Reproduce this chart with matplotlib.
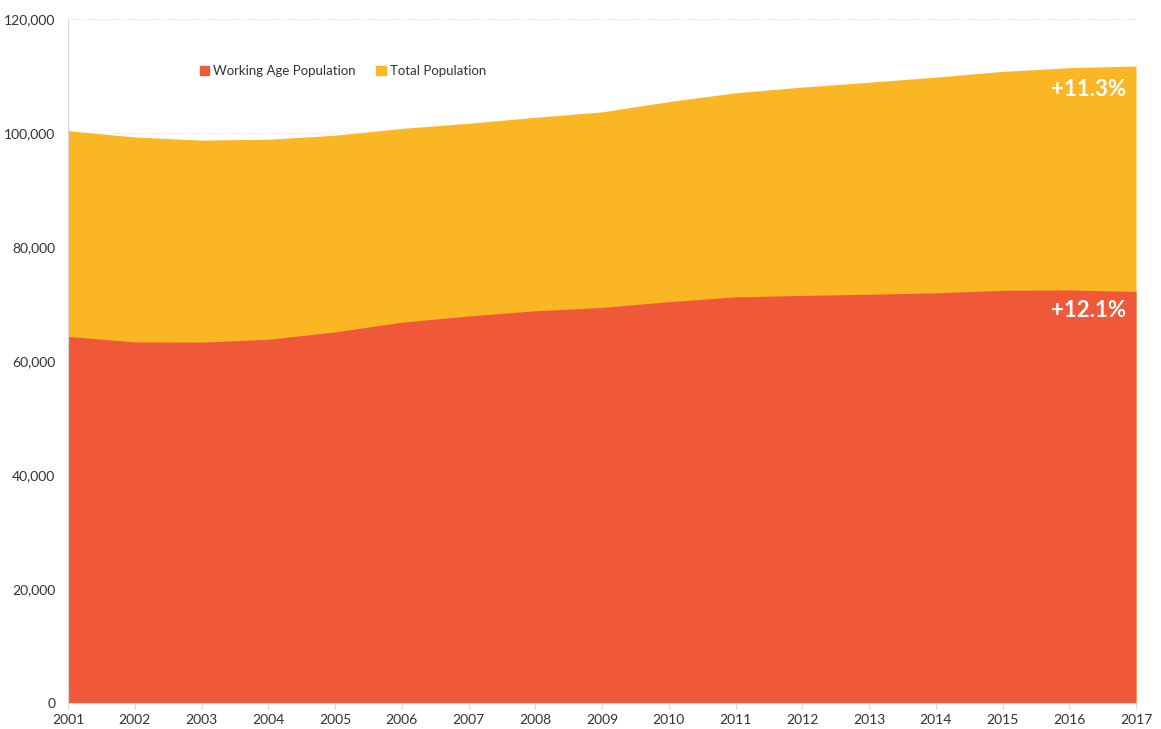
import matplotlib
matplotlib.use('Agg')
import matplotlib.pyplot as plt
import numpy             as np
from   matplotlib.ticker import FuncFormatter
from   matplotlib.patches import Patch


years      = [2001, 2002, 2003, 2004, 2005, 2006, 2007, 2008, 2009,
              2010, 2011, 2012, 2013, 2014, 2015, 2016, 2017]
total_pop  = [100400, 99300, 98750, 98900, 99600, 100800, 101700, 102750, 103700,
              105500, 107050, 108050, 108900, 109800, 110800, 111450, 111750]
working_pop = [64300, 63350, 63300, 63800, 65100, 66800, 67900, 68800, 69400,
               70400, 71250, 71500, 71700, 71950, 72400, 72450, 72200]
growth_labels = ['+11.3%', '+12.1%']

red    = '#EF593A'
yellow = '#FBB624'

plt.rcParams['font.family'] = ['Lato', 'DejaVu Sans']

fig = plt.figure(figsize=(11.61, 7.29), dpi=100)
ax  = fig.add_axes([0.0586, 0.0357, 0.9199, 0.9383])

ax.fill_between(years, 0, total_pop,   color=yellow, lw=0, zorder=2)
ax.fill_between(years, 0, working_pop, color=red,    lw=0, zorder=3)

ax.set_xlim(years[0], years[-1])
ax.set_ylim(0, 120000)
ax.set_xticks(years)
ax.set_yticks(np.arange(0, 120001, 20000))
ax.yaxis.set_major_formatter(FuncFormatter(lambda v, p: f'{int(v):,}'))

ax.grid(axis='y', color='#d9d9d9', linestyle=(0, (1, 2)), lw=0.8, zorder=1)
for side in ['top', 'right']:
    ax.spines[side].set_visible(False)
for side in ['left', 'bottom']:
    ax.spines[side].set_color('#d9d9d9')
    ax.spines[side].set_zorder(4)

ax.tick_params(axis='y', length=0, labelsize=10, colors='#333333', pad=9)
ax.tick_params(axis='x', length=4, color='#d9d9d9', labelsize=10,
               labelcolor='#333333', pad=4, direction='out')

# end-of-series growth labels
ax.text(years[-1] - 0.15, total_pop[-1]   - 2300, growth_labels[0], color='white',
        fontsize=16, fontweight='bold', ha='right', va='top', zorder=5)
ax.text(years[-1] - 0.15, working_pop[-1] - 1500, growth_labels[1], color='white',
        fontsize=16, fontweight='bold', ha='right', va='top', zorder=5)

handles = [Patch(color=red,    label='Working Age Population'),
           Patch(color=yellow, label='Total Population')]
ax.legend(handles=handles, loc='upper left', bbox_to_anchor=(0.112, 0.95),
          ncol=2, frameon=False, fontsize=9.5, handlelength=0.7, handleheight=0.7,
          handletextpad=0.3, columnspacing=1.6, labelcolor='#333333')

fig.savefig('out.png', dpi=100)
